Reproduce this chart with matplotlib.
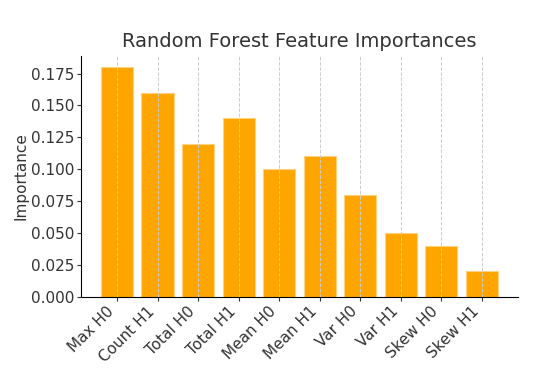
import matplotlib
matplotlib.use('Agg')
import matplotlib.pyplot as plt
import numpy as np

features = ['Max H0', 'Count H1', 'Total H0', 'Total H1', 'Mean H0',
            'Mean H1', 'Var H0', 'Var H1', 'Skew H0', 'Skew H1']
importances = [0.18, 0.16, 0.12, 0.14, 0.10, 0.11, 0.08, 0.05, 0.04, 0.02]

fig, ax = plt.subplots(figsize=(5.48, 3.71), dpi=100)
ax.bar(features, importances, color='orange', edgecolor='#ffd27f', linewidth=0.8, zorder=2)
ax.grid(axis='x', linestyle='--', color='#cccccc', linewidth=0.7, zorder=3)
ax.set_axisbelow(False)
ax.set_yticks(np.arange(0, 0.176, 0.025))
ax.set_title('Random Forest Feature Importances', fontsize=14, color='#333333')
ax.set_ylabel('Importance', fontsize=11, color='#333333', labelpad=2)
ax.tick_params(labelsize=11, colors='#333333', length=3, pad=2)
plt.setp(ax.get_xticklabels(), rotation=45, ha='right')
ax.spines['top'].set_visible(False)
ax.spines['right'].set_visible(False)
fig.subplots_adjust(left=0.148, right=0.945, top=0.85, bottom=0.2)
fig.savefig('out.png')
